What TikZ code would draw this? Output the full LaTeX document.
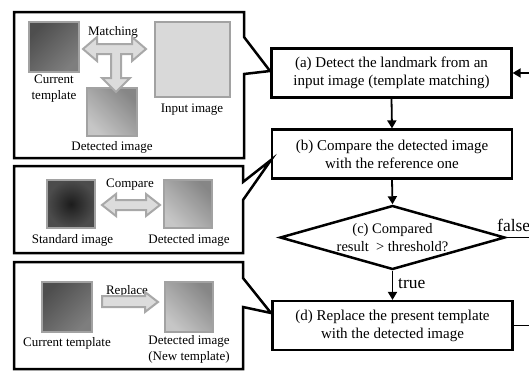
\documentclass[tikz,border=0pt]{standalone}
\usepackage{fontspec}
\setmainfont{Liberation Serif}
\usetikzlibrary{shapes.geometric,arrows.meta}

\definecolor{tplA}{HTML}{4E4E4E}
\definecolor{tplB}{HTML}{7E7E7E}
\definecolor{detA}{HTML}{868686}
\definecolor{detB}{HTML}{C6C6C6}
\definecolor{inpC}{HTML}{D9D9D9}
\definecolor{stdA}{HTML}{1C1C1C}
\definecolor{stdB}{HTML}{4C4C4C}
\definecolor{picEdge}{HTML}{A2A2A2}
\definecolor{arrFill}{HTML}{DCDCDC}
\definecolor{arrEdge}{HTML}{A8A8A8}

\begin{document}
\begin{tikzpicture}[x=1pt,y=-1pt,
  stepbox/.style={draw, line width=2.2pt, minimum width=240pt, minimum height=49pt,
    inner sep=0pt, align=center, font=\fontsize{15}{18}\selectfont},
  decision/.style={diamond, draw, line width=2.5pt, aspect=3.5, minimum width=225pt,
    minimum height=64pt, inner sep=0pt, align=center, font=\fontsize{14.5}{18}\selectfont},
  flow/.style={line width=1.8pt, -{Triangle[width=9pt,length=8pt]}},
  loopline/.style={line width=1.8pt},
  callout/.style={line width=2.5pt, line join=miter},
  imgbox/.style={draw=picEdge, line width=2pt, minimum width=50pt, minimum height=50pt, inner sep=0pt},
  lbl/.style={font=\fontsize{13}{16}\selectfont, align=center, inner sep=0pt},
  yesno/.style={font=\fontsize{17.5}{20}\selectfont, inner sep=0pt},
  hollow/.style={fill=arrFill, draw=arrEdge, line width=2pt, line join=miter}
]
\useasboundingbox (0,0) rectangle (529,370);
\clip (0,0) rectangle (529,370);
\fill[white] (0,0) rectangle (529,370);

% ---------- flow chart ----------
\node[stepbox] (a) at (391.5,73) {(a) Detect the landmark from an\\input image (template matching)};
\node[stepbox] (b) at (392,154) {(b) Compare the detected image\\with the reference one};
\node[decision] (c) at (392.5,237.5) {(c) Compared\\result \ > threshold?};
\node[stepbox] (d) at (392.5,325.5) {(d) Replace the present template\\with the detected image};

\draw[flow] (a.south) -- (b.north);
\draw[flow] (b.south) -- (c.north);
\draw[flow] (c.south) -- (d.north);
\node[yesno, anchor=west] (t) at (398,284) {true};
\node[yesno, anchor=west] (f) at (497,225) {false};

% feedback loop running past the right edge
\coordinate (rc) at (c.east -| 545,0);
\coordinate (rd) at (d.east -| 545,0);
\coordinate (ra) at (a.east -| 545,0);
\draw[loopline] (c.east) -- (rc);
\draw[loopline] (d.east) -- (rd) -- (ra);
\draw[flow] (ra) -- (a.east);

% ---------- callout 1: matching ----------
\draw[callout] (14,12) -- (244,12) -- (244,37) -- (270,71) -- (244,74) -- (244,158) -- (14,158) -- cycle;
\node[imgbox, top color=tplA, bottom color=tplB, shading angle=45] (cur1) at (54,47) {};
\node[imgbox, fill=inpC, minimum width=75pt, minimum height=75pt] (inp) at (192.5,59.5) {};
\node[imgbox, top color=detA, bottom color=detB, shading angle=-45, minimum height=48pt] (det1) at (112,112) {};
\node[lbl] (cur1l) at (54,88.5) {Current\\template};
\node[lbl] (inpl) at (192,110) {Input image};
\node[lbl] (det1l) at (112,147) {Detected image};
\node[lbl] (match) at (113,32) {Matching};
\draw[hollow] (83,49) -- (97,37) -- (97,44) -- (132,44) -- (132,37) -- (146,49)
  -- (132,61) -- (132,54) -- (121,54) -- (121,78) -- (130,78) -- (116,92)
  -- (102,78) -- (111,78) -- (111,54) -- (97,54) -- (97,61) -- cycle;

% ---------- callout 2: comparison ----------
\draw[callout] (14,166) -- (243,166) -- (243,182) -- (271,160) -- (243,200) -- (243,253) -- (14,253) -- cycle;
\node[imgbox, shading=radial, inner color=stdA, outer color=stdB, minimum width=48pt, minimum height=48pt] (std) at (71,204) {};
\node[imgbox, top color=detA, bottom color=detB, shading angle=-45, minimum width=48pt, minimum height=48pt] (det2) at (188,204) {};
\node[lbl] (stdl) at (72.5,240) {Standard image};
\node[lbl] (det2l) at (189,240) {Detected image};
\node[lbl] (cmp) at (130,185) {Compare};
\draw[hollow] (102,205) -- (116,194) -- (116,200) -- (146,200) -- (146,194) -- (160,205)
  -- (146,216) -- (146,210) -- (116,210) -- (116,216) -- cycle;

% ---------- callout 3: replacement ----------
\draw[callout] (14,262) -- (243,262) -- (243,278) -- (271,313) -- (243,307) -- (243,369) -- (14,369) -- cycle;
\node[imgbox, top color=tplA, bottom color=tplB, shading angle=45] (cur3) at (67,307) {};
\node[imgbox, top color=detA, bottom color=detB, shading angle=-45, minimum width=48pt] (det3) at (189,307) {};
\node[lbl] (cur3l) at (67,343) {Current template};
\node[lbl] (det3l) at (189,349.5) {Detected image\\(New template)};
\node[lbl] (rep) at (127,291) {Replace};
\draw[hollow] (102,296) -- (145,296) -- (145,292) -- (158,302) -- (145,312) -- (145,307) -- (102,307) -- cycle;
\end{tikzpicture}
\end{document}
